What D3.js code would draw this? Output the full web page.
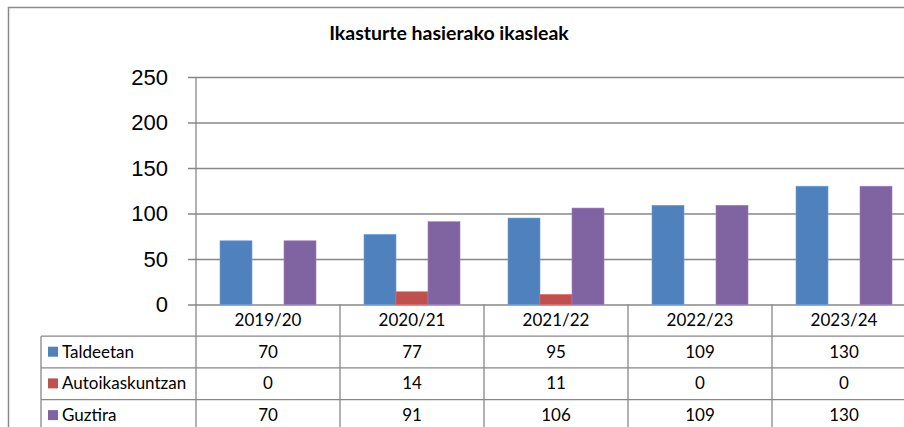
<!DOCTYPE html>
<html>
<head>
<meta charset="utf-8">
<script src="https://cdn.jsdelivr.net/npm/d3@7/dist/d3.min.js"></script>
<style>
  body { margin: 0; background: #fff; }
  svg { display: block; font-family: Lato, 'Open Sans', sans-serif; }
</style>
</head>
<body>
<svg id="chart" width="904" height="427"></svg>
<script>
const title = 'Ikasturte hasierako ikasleak';
const years = ['2019/20', '2020/21', '2021/22', '2022/23', '2023/24'];
const seriesNames = ['Taldeetan', 'Autoikaskuntzan', 'Guztira'];
const taldeetan = [70, 77, 95, 109, 130];
const autoikaskuntzan = [0, 14, 11, 0, 0];
const guztira = [70, 91, 106, 109, 130];
const colors = ['#4f81bd', '#c0504d', '#8064a2'];
const yTicks = [0, 50, 100, 150, 200, 250];

const values = [taldeetan, autoikaskuntzan, guztira];
const series = seriesNames.map((name, i) => ({ name, color: colors[i], values: values[i] }));

const lineColor = '#878787';
const svg = d3.select('#chart');

// layout (plot runs past the right edge, like the cropped original)
const plot = { left: 196, right: 916, top: 77, bottom: 304.5 };
const rowH = 31.7;
const tableLeft = 41;

const x = d3.scaleBand().domain(years).range([plot.left, plot.right]);
const xs = d3.scaleBand().domain(seriesNames).range([0, x.bandwidth()])
    .paddingInner(0).paddingOuter(0.75);
const y = d3.scaleLinear().domain([0, 250]).range([plot.bottom, plot.top]);

// outer chart frame
svg.append('rect')
    .attr('x', 8.5).attr('y', 7.5)
    .attr('width', 1000).attr('height', 1000)
    .attr('fill', 'none')
    .attr('stroke', '#8a8a8a')
    .attr('stroke-width', 1.5);

svg.append('text')
    .attr('x', 449).attr('y', 40)
    .attr('text-anchor', 'middle')
    .style('font-weight', 'bold')
    .style('font-size', '19.5px')
    .attr('fill', '#000')
    .text(title);

// y axis with gridlines
const yAxis = svg.append('g')
    .attr('transform', `translate(${plot.left},0)`)
    .call(d3.axisLeft(y).tickValues(yTicks)
      .tickSizeInner(-(plot.right - plot.left)).tickSizeOuter(0));
yAxis.select('.domain').remove();
yAxis.selectAll('.tick line')
    .attr('x1', -8)
    .attr('stroke', lineColor)
    .attr('stroke-width', 1.3);
yAxis.selectAll('.tick text')
    .attr('x', -28)
    .style('font-size', '22px')
    .attr('fill', '#000');
svg.append('line')
    .attr('x1', plot.left).attr('x2', plot.left)
    .attr('y1', plot.top).attr('y2', plot.bottom + 4 * rowH)
    .attr('stroke', lineColor).attr('stroke-width', 1.3);

// bars
const groups = svg.append('g').selectAll('g')
    .data(years)
    .join('g')
    .attr('transform', d => `translate(${x(d)},0)`);
groups.selectAll('rect')
    .data((d, i) => series.map(s => ({ s, v: s.values[i] })))
    .join('rect')
    .attr('x', d => xs(d.s.name))
    .attr('width', xs.bandwidth())
    .attr('y', d => y(d.v))
    .attr('height', d => y(0) - y(d.v))
    .attr('fill', d => d.s.color)
    .attr('stroke', d => d3.color(d.s.color).brighter(0.6))
    .attr('stroke-width', d => d.v > 0 ? 0.6 : 0);

// data table
const table = svg.append('g').style('font-size', '17px').attr('fill', '#000');
const rowTop = i => plot.bottom + (i + 1) * rowH;

// horizontal rules
d3.range(4).forEach(i => {
  table.append('line')
      .attr('x1', tableLeft).attr('x2', plot.right)
      .attr('y1', rowTop(i)).attr('y2', rowTop(i))
      .attr('stroke', lineColor).attr('stroke-width', 1.3);
});
// vertical rules
table.append('line')
    .attr('x1', tableLeft).attr('x2', tableLeft)
    .attr('y1', rowTop(0)).attr('y2', rowTop(3))
    .attr('stroke', lineColor).attr('stroke-width', 1.3);
years.forEach(yr => {
  table.append('line')
      .attr('x1', x(yr) + x.bandwidth()).attr('x2', x(yr) + x.bandwidth())
      .attr('y1', plot.bottom).attr('y2', rowTop(3))
      .attr('stroke', lineColor).attr('stroke-width', 1.3);
});

// header row
table.selectAll('text.year')
    .data(years)
    .join('text')
    .attr('class', 'year')
    .attr('x', d => x(d) + x.bandwidth() / 2)
    .attr('y', plot.bottom + 21.5)
    .attr('text-anchor', 'middle')
    .text(d => d);

// series rows
series.forEach((s, i) => {
  const top = rowTop(i);
  table.append('rect')
      .attr('x', 48).attr('y', top + 10.5)
      .attr('width', 10).attr('height', 10)
      .attr('fill', s.color);
  table.append('text')
      .attr('x', 62).attr('y', top + 21.5)
      .text(s.name);
  table.selectAll(null)
      .data(s.values)
      .join('text')
      .attr('x', (d, j) => x(years[j]) + x.bandwidth() / 2)
      .attr('y', top + 21.5)
      .attr('text-anchor', 'middle')
      .text(d => d);
});
</script>
</body>
</html>
